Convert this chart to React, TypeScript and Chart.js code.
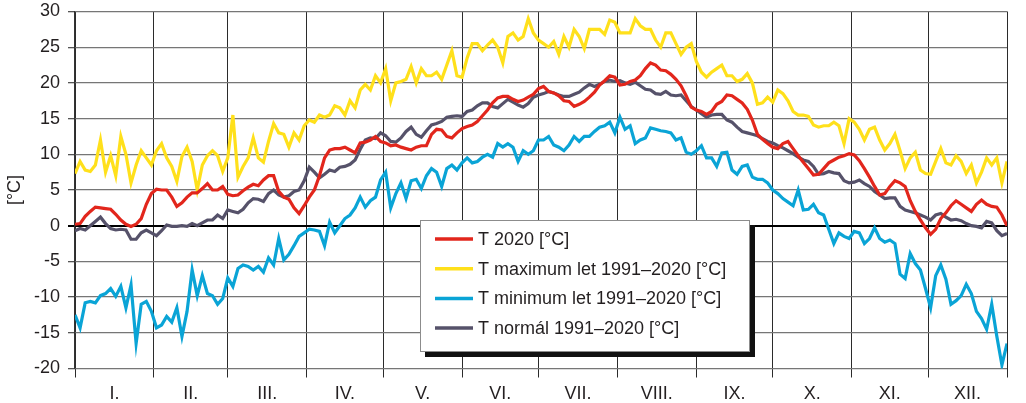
import React, { useEffect, useRef } from 'react';
import { Chart, registerables } from 'chart.js';

Chart.register(...registerables);

// ---- data (one value every DAY_STEP days, day 0 .. 366) ----
const DAY_STEP = 2;

const monthLabels = ['I.', 'II.', 'III.', 'IV.', 'V.', 'VI.', 'VII.', 'VIII.', 'IX.', 'X.', 'XI.', 'XII.'];
const monthStarts = [0, 31, 60, 91, 121, 152, 182, 213, 244, 274, 305, 335, 366];
const yTickMin = -20;
const yTickMax = 30;
const yTickStep = 5;

const seriesLabels = [
  'T 2020 [°C]',
  'T maximum let 1991–2020 [°C]',
  'T minimum let 1991–2020 [°C]',
  'T normál 1991–2020 [°C]',
];

const t2020 = [
  0.2, 0.3, 1.3, 2.0, 2.6, 2.5, 2.4, 2.3, 1.6, 0.8,
  0.2, -0.1, 0.2, 1.0, 3.0, 4.5, 5.1, 5.0, 5.0, 4.0,
  2.7, 3.2, 4.0, 4.6, 4.6, 5.2, 5.9, 5.0, 5.0, 5.5,
  4.4, 4.2, 4.3, 4.9, 5.4, 5.8, 5.6, 6.4, 7.0, 7.0,
  4.8, 4.0, 3.7, 2.5, 1.7, 2.8, 4.0, 5.0, 7.0, 9.5,
  10.6, 10.8, 10.8, 11.0, 10.6, 10.2, 11.6, 11.7, 12.0, 12.5,
  11.8, 11.6, 11.2, 11.3, 11.0, 10.8, 10.6, 11.0, 11.2, 11.2,
  12.8, 13.5, 13.4, 12.5, 12.3, 13.0, 13.6, 13.9, 14.1, 14.6,
  15.4, 16.2, 17.2, 17.9, 18.1, 18.1, 17.7, 17.4, 17.6, 18.0,
  18.4, 19.2, 19.5, 18.8, 18.6, 18.2, 17.5, 17.4, 16.7, 17.0,
  17.4, 18.0, 18.7, 19.7, 20.3, 21.0, 20.8, 19.7, 19.8, 20.2,
  20.4, 21.0, 22.0, 22.8, 22.5, 21.8, 21.7, 21.2, 20.5, 19.6,
  18.2, 16.6, 16.2, 16.0, 15.6, 16.0, 17.0, 17.4, 18.3, 18.2,
  17.7, 17.2, 16.3, 14.8, 12.8, 12.1, 11.5, 11.0, 10.8, 11.5,
  11.8, 10.8, 9.8, 8.9, 8.0, 7.1, 7.2, 8.0, 8.8, 9.2,
  9.6, 9.8, 10.1, 9.9, 9.1, 8.0, 6.8, 5.5, 4.3, 4.5,
  5.5, 6.3, 6.0, 5.5, 3.5, 2.0, 0.8, -0.3, -1.2, -0.5,
  1.0, 1.8, 2.8, 3.5, 3.0, 2.5, 2.0, 3.0, 3.6, 3.0,
  2.7, 2.6, 1.5, 0.0,
];

const tMax = [
  7.3, 9.0, 7.8, 7.6, 8.5, 12.0, 7.5, 9.8, 7.0, 12.5,
  10.0, 6.0, 8.5, 10.5, 9.5, 8.5, 10.5, 11.5, 9.5, 8.3,
  6.2, 9.7, 11.0, 9.0, 5.0, 8.5, 9.8, 10.5, 9.8, 7.6,
  9.5, 15.5, 6.8, 8.3, 9.5, 12.3, 9.5, 8.9, 11.8, 14.3,
  13.0, 12.8, 11.0, 13.0, 12.0, 14.0, 14.8, 14.5, 15.5, 15.2,
  15.5, 16.8, 16.5, 15.5, 17.5, 16.5, 19.0, 19.8, 19.0, 21.0,
  20.0, 22.0, 17.5, 20.0, 20.2, 20.5, 22.3, 20.0, 22.0, 21.0,
  21.0, 21.5, 20.5, 22.5, 24.5, 21.0, 20.8, 23.5, 25.5, 25.5,
  24.5, 25.3, 26.0, 25.0, 22.8, 26.5, 27.0, 26.0, 26.5, 29.0,
  27.0, 26.0, 25.5, 25.0, 25.8, 24.0, 26.5, 25.0, 27.5, 26.5,
  24.8, 27.5, 27.5, 27.5, 26.8, 28.8, 28.5, 27.0, 27.0, 27.0,
  29.0, 28.0, 27.5, 27.5, 26.0, 25.0, 27.0, 27.0, 25.5, 24.0,
  25.0, 25.5, 23.0, 21.5, 20.8, 21.5, 22.0, 22.5, 21.0, 21.0,
  20.2, 20.5, 21.3, 20.0, 17.0, 17.2, 18.0, 17.3, 19.0, 18.5,
  17.5, 16.0, 15.5, 15.5, 15.3, 14.1, 13.8, 14.0, 14.0, 14.5,
  14.0, 11.5, 15.0, 14.5, 13.5, 12.0, 13.5, 13.8, 12.0, 10.6,
  11.5, 12.8, 10.5, 8.0, 9.5, 10.3, 7.8, 7.3, 7.2, 9.0,
  10.8, 8.8, 8.5, 9.8, 9.0, 7.3, 8.5, 6.0, 7.5, 9.5,
  8.5, 9.5, 6.0, 9.0,
];

const tMin = [
  -12.5, -14.3, -10.8, -10.6, -10.8, -9.8, -9.5, -8.8, -9.9, -8.5,
  -11.5, -8.3, -16.5, -11.0, -10.6, -12.0, -14.3, -13.9, -12.7, -13.5,
  -11.5, -15.5, -12.0, -6.2, -9.8, -7.0, -9.5, -9.8, -11.0, -10.2,
  -7.3, -8.5, -6.0, -5.5, -5.7, -6.2, -5.7, -6.5, -4.5, -5.5,
  -1.8, -4.8, -4.0, -2.8, -1.5, -1.0, -0.5, -0.6, -0.8, -2.8,
  0.5, -1.0, 0.0, 1.0, 1.5, 2.5, 4.0, 2.6, 3.5, 4.0,
  6.4, 7.5, 2.5, 4.5, 6.0, 3.8, 6.3, 6.5, 5.2, 7.0,
  8.0, 7.5, 5.5, 8.0, 8.5, 7.8, 8.8, 9.5, 8.8, 9.0,
  9.6, 10.0, 9.6, 11.5, 11.0, 11.5, 11.0, 9.0, 10.5, 10.0,
  10.5, 12.0, 12.0, 12.5, 11.3, 11.0, 10.5, 11.3, 12.5, 11.8,
  12.5, 12.5, 13.2, 13.8, 14.0, 14.5, 13.0, 15.2, 13.5, 14.0,
  11.5, 12.0, 12.3, 13.7, 13.5, 13.3, 13.2, 13.0, 12.0, 12.3,
  10.3, 10.0, 10.5, 11.2, 9.5, 9.5, 8.3, 10.2, 10.3, 7.8,
  7.2, 8.3, 8.5, 6.8, 6.5, 6.5, 6.0, 5.0, 4.5, 3.8,
  3.3, 2.8, 5.0, 2.2, 2.3, 3.0, 1.8, 1.5, -0.5, -2.5,
  -1.0, -1.5, -1.8, -0.8, -1.0, -2.5, -1.8, -0.3, -1.8, -2.3,
  -2.0, -2.5, -6.8, -7.4, -3.9, -5.3, -6.2, -8.8, -11.5, -7.0,
  -5.5, -7.5, -11.0, -10.5, -9.8, -8.2, -9.5, -12.0, -13.0, -14.5,
  -11.0, -15.5, -19.5, -16.5,
];

const tNormal = [
  -0.7, -0.4, -0.6, 0.0, 0.6, 1.2, 0.3, -0.4, -0.6, -0.5,
  -0.6, -1.9, -1.9, -1.0, -0.6, -1.0, -1.4, -0.7, 0.1, -0.1,
  -0.1, 0.0, -0.1, 0.3, 0.0, 0.4, 0.8, 0.8, 1.5, 1.0,
  2.2, 2.0, 1.8, 2.3, 3.2, 3.8, 3.7, 3.4, 4.5, 5.0,
  4.3, 4.0, 4.2, 4.8, 5.0, 6.3, 8.2, 7.5, 6.7, 7.2,
  7.8, 7.6, 8.2, 8.3, 8.6, 9.2, 10.7, 12.0, 12.3, 12.2,
  13.0, 12.6, 11.8, 11.7, 12.3, 13.2, 13.8, 12.8, 12.4, 13.3,
  14.1, 14.3, 14.6, 15.2, 15.3, 15.4, 15.3, 16.0, 16.2, 16.8,
  17.2, 17.2, 16.7, 16.5, 17.1, 17.7, 17.3, 16.9, 16.6, 17.1,
  18.0, 18.3, 18.5, 18.8, 18.6, 18.3, 18.1, 18.1, 18.4, 18.7,
  19.3, 19.8, 19.5, 19.8, 20.2, 20.4, 20.2, 20.3, 20.0, 19.8,
  20.1, 19.6, 19.1, 19.0, 18.5, 18.4, 18.8, 18.3, 18.2, 18.3,
  17.5, 16.7, 16.2, 15.7, 15.2, 15.5, 15.6, 15.6, 14.8, 14.5,
  13.8, 13.2, 13.0, 12.8, 12.6, 12.2, 11.8, 11.6, 11.2, 10.9,
  10.5, 10.1, 9.6, 9.2, 9.0, 8.3, 7.2, 7.3, 7.6, 7.4,
  7.3, 6.3, 6.0, 6.1, 6.4, 5.9, 5.5, 4.8, 4.3, 3.8,
  3.9, 3.9, 2.7, 2.2, 2.0, 1.8, 1.5, 1.2, 0.8, 1.5,
  1.7, 1.2, 0.8, 0.9, 0.7, 0.3, 0.0, -0.1, -0.3, 0.6,
  0.4, -0.7, -1.4, -1.1,
];

// ---- styling ----
const FONT = '"Liberation Sans", Arial, Helvetica, sans-serif';
const TEXT = '#231f20';
const seriesColors = ['#e2261c', '#ffe01b', '#0aa4d6', '#56526a'];

const monthCenters = monthLabels.map((_, i) => (monthStarts[i] + monthStarts[i + 1]) / 2);
const toPoints = (arr: number[]) => arr.map((v, i) => ({ x: i * DAY_STEP, y: v }));
const isBoundary = (v: number) => monthStarts.includes(v);

const boxLegend = {
  id: 'boxLegend',
  afterDraw(chart: any, _args: any, opts: any) {
    const { ctx, chartArea } = chart;
    const x = chartArea.left + opts.offsetX;
    const y = chartArea.top + opts.offsetY;
    const w = opts.width;
    const h = opts.height;
    ctx.save();
    ctx.fillStyle = '#111';
    ctx.fillRect(x + opts.shadow, y + opts.shadow, w, h);
    ctx.fillStyle = '#ffffff';
    ctx.fillRect(x, y, w, h);
    ctx.strokeStyle = '#8c8c8c';
    ctx.lineWidth = 1;
    ctx.strokeRect(x + 0.5, y + 0.5, w - 1, h - 1);
    ctx.font = `${opts.fontSize}px ${FONT}`;
    ctx.textBaseline = 'middle';
    ctx.textAlign = 'left';
    chart.data.datasets.forEach((ds: any, i: number) => {
      const cy = y + opts.firstRow + i * opts.rowGap;
      ctx.strokeStyle = ds.borderColor;
      ctx.lineWidth = 3.5;
      ctx.beginPath();
      ctx.moveTo(x + 15, cy);
      ctx.lineTo(x + 53, cy);
      ctx.stroke();
      ctx.fillStyle = TEXT;
      ctx.fillText(ds.label, x + 58, cy + 1);
    });
    ctx.restore();
  },
};

export default function App() {
  const ref = useRef<HTMLCanvasElement | null>(null);

  useEffect(() => {
    if (!ref.current) return;
    const seriesData = [t2020, tMax, tMin, tNormal];
    const chart = new Chart(ref.current, {
      type: 'line',
      data: {
        datasets: seriesData.map((arr, i) => ({
          label: seriesLabels[i],
          data: toPoints(arr),
          borderColor: seriesColors[i],
          backgroundColor: seriesColors[i],
          borderWidth: 3.2,
          pointRadius: 0,
          tension: 0,
          fill: false,
        })),
      },
      options: {
        responsive: false,
        animation: false,
        events: [],
        layout: { padding: { left: 0, right: 19, top: 11.5, bottom: 0 } },
        plugins: {
          legend: { display: false },
          tooltip: { enabled: false },
          boxLegend: {
            offsetX: 345,
            offsetY: 208.5,
            width: 330,
            height: 132,
            shadow: 5,
            firstRow: 19,
            rowGap: 29.7,
            fontSize: 18,
          },
        } as any,
        scales: {
          x: {
            type: 'linear',
            min: 0,
            max: 366,
            afterBuildTicks: (scale: any) => {
              scale.ticks = [...monthStarts, ...monthCenters]
                .sort((a, b) => a - b)
                .map((v) => ({ value: v }));
            },
            afterFit: (scale: any) => {
              scale.height = 34.5;
              scale.paddingLeft = 0;
              scale.paddingRight = 0;
            },
            ticks: {
              autoSkip: false,
              maxRotation: 0,
              minRotation: 0,
              padding: 6,
              color: TEXT,
              font: { family: FONT, size: 18 },
              callback: (v: any) => {
                const idx = monthCenters.indexOf(Number(v));
                return idx >= 0 ? monthLabels[idx] : '';
              },
            },
            grid: {
              color: (c: any) => (c.tick && isBoundary(c.tick.value) ? '#2b2b2b' : 'rgba(0,0,0,0)'),
              lineWidth: 1,
              tickLength: 9,
            },
            border: { display: false },
          },
          y: {
            min: yTickMin,
            max: yTickMax,
            afterFit: (scale: any) => {
              scale.width = 75;
              scale.paddingTop = 0;
              scale.paddingBottom = 0;
            },
            ticks: {
              stepSize: yTickStep,
              padding: 8,
              color: TEXT,
              font: { family: FONT, size: 18 },
            },
            grid: {
              color: (c: any) => (c.tick && c.tick.value === 0 ? '#000000' : '#767676'),
              lineWidth: (c: any) => (c.tick && c.tick.value === 0 ? 2 : 1.3),
              tickColor: (c: any) => (c.tick && c.tick.value === 0 ? '#000000' : '#555555'),
              tickLength: 7,
            },
            border: { color: '#333333', width: 1.2 },
            title: {
              display: true,
              text: '[°C]',
              color: TEXT,
              font: { family: FONT, size: 18 },
              padding: { top: 4, bottom: 0 },
            },
          },
        },
      },
      plugins: [boxLegend],
    } as any);
    return () => chart.destroy();
  }, []);

  return (
    <div style={{ position: 'fixed', left: 0, top: 0, width: 1026, height: 403, background: '#ffffff' }}>
      <canvas ref={ref} width={1026} height={403} style={{ display: 'block' }} />
    </div>
  );
}
